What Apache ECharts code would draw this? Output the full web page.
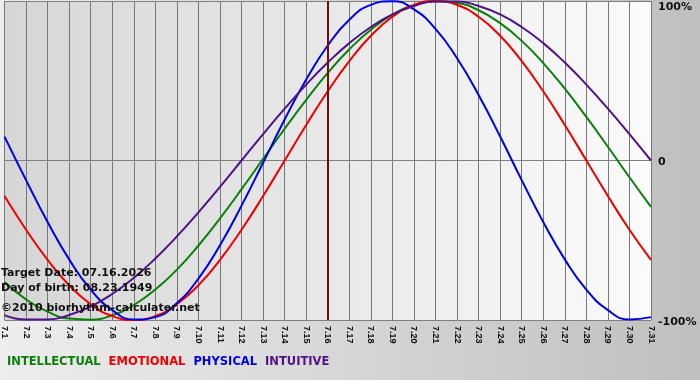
<!DOCTYPE html>
<html>
<head>
<meta charset="utf-8">
<script src="https://cdn.jsdelivr.net/npm/echarts@6/dist/echarts.min.js"></script>
<style>
  html, body { margin: 0; padding: 0; }
  #main { width: 700px; height: 380px; }
</style>
</head>
<body>
<div id="main"></div>
<script>
// days of July shown on the x axis
const days = ['7.1', '7.2', '7.3', '7.4', '7.5', '7.6', '7.7', '7.8', '7.9', '7.10',
  '7.11', '7.12', '7.13', '7.14', '7.15', '7.16', '7.17', '7.18', '7.19', '7.20',
  '7.21', '7.22', '7.23', '7.24', '7.25', '7.26', '7.27', '7.28', '7.29', '7.30', '7.31']
const targetDay = '7.16'

// values in percent
const intellectual = [-76.2, -87.1, -94.8, -99.1, -99.8, -97.0, -90.6, -80.9, -68.4, -53.3,
  -36.3, -18.0, 1.0, 19.9, 38.0, 54.9, 69.7, 82.0, 91.4, 97.4,
  99.9, 98.8, 94.2, 86.1, 75.0, 61.1, 45.0, 27.3, 8.6, -10.5, -29.1]
const emotional = [-22.3, -43.4, -62.3, -78.2, -90.1, -97.5, -100, -97.5, -90.1, -78.2,
  -62.3, -43.4, -22.3, 0, 22.3, 43.4, 62.3, 78.2, 90.1, 97.5,
  100, 97.5, 90.1, 78.2, 62.3, 43.4, 22.3, 0, -22.3, -43.4, -62.3]
const physical = [15.0, -12.3, -38.6, -62.0, -80.9, -93.8, -99.7, -98.2, -89.4, -74.0,
  -53.1, -28.3, -1.4, 25.7, 50.8, 72.1, 88.2, 97.6, 99.9, 94.7,
  82.5, 64.1, 41.1, 15.0, -12.3, -38.6, -62.0, -80.9, -93.8, -99.7, -98.2]
const intuitive = [-96.9, -99.7, -99.7, -96.9, -91.6, -83.7, -73.6, -61.4, -47.6, -32.5,
  -16.5, 0, 16.5, 32.5, 47.6, 61.4, 73.6, 83.7, 91.6, 96.9,
  99.7, 99.7, 96.9, 91.6, 83.7, 73.6, 61.4, 47.6, 32.5, 16.5, 0]

const yTicks = { '100': '100%', '0': '0', '-100': '-100%' }

const colors = {
  INTELLECTUAL: '#0a800a',
  EMOTIONAL: '#ee0000',
  PHYSICAL: '#0000e0',
  INTUITIVE: '#4e1387'
}

const font = 'DejaVu Sans'
const chart = echarts.init(document.getElementById('main'))

function lineSeries(name, data) {
  return {
    name: name,
    type: 'line',
    data: data,
    smooth: 0.5,
    symbol: 'none',
    lineStyle: { color: colors[name], width: 2 },
    itemStyle: { color: colors[name] }
  }
}

const series = [
  lineSeries('INTELLECTUAL', intellectual),
  lineSeries('EMOTIONAL', emotional),
  lineSeries('PHYSICAL', physical),
  lineSeries('INTUITIVE', intuitive)
]
series[0].markLine = {
  silent: true,
  symbol: 'none',
  label: { show: false },
  lineStyle: { color: '#7a0a0a', width: 2, type: 'solid' },
  data: [{ xAxis: targetDay }]
}

const infoText = { fontFamily: font, fontSize: 11, fontWeight: 'bold', color: '#111' }

let option = {
  animation: false,
  backgroundColor: new echarts.graphic.LinearGradient(0, 0, 1, 0, [
    { offset: 0, color: '#ededed' },
    { offset: 1, color: '#bfbfbf' }
  ]),
  title: [
    { text: 'Target Date: 07.16.2026', left: 1, top: 268, padding: 0, textStyle: infoText },
    { text: 'Day of birth: 08.23.1949', left: 1, top: 283, padding: 0, textStyle: infoText },
    { text: '©2010 biorhythm-calculater.net', left: 1, top: 303, padding: 0, textStyle: infoText }
  ],
  legend: {
    left: 2,
    top: 356,
    padding: 0,
    icon: 'none',
    itemWidth: 0,
    itemHeight: 0,
    itemGap: 3,
    selectedMode: false,
    data: Object.keys(colors).map(n => ({
      name: n,
      textStyle: { color: colors[n], fontFamily: font, fontSize: 11.5, fontWeight: 'bold' }
    }))
  },
  grid: {
    left: 0,
    right: 49,
    top: 1,
    bottom: 60,
    show: true,
    borderWidth: 0,
    backgroundColor: new echarts.graphic.LinearGradient(0, 0, 1, 0, [
      { offset: 0, color: '#d6d6d6' },
      { offset: 1, color: '#fbfbfb' }
    ])
  },
  xAxis: {
    type: 'category',
    data: days,
    boundaryGap: false,
    axisLine: { lineStyle: { color: '#808080', width: 1 } },
    axisTick: { show: true, length: 3, lineStyle: { color: '#808080' } },
    splitLine: { show: true, lineStyle: { color: '#777777', width: 1 } },
    axisLabel: {
      interval: 0,
      rotate: -90,
      margin: 6,
      fontFamily: 'Liberation Sans',
      fontSize: 9,
      fontWeight: 'bold',
      color: '#111'
    }
  },
  yAxis: {
    type: 'value',
    position: 'right',
    min: -100,
    max: 100,
    interval: 100,
    axisLine: { show: false },
    axisTick: { show: false },
    splitLine: { show: true, lineStyle: { color: '#808080', width: 1 } },
    axisLabel: {
      margin: 7,
      fontFamily: font,
      fontSize: 11,
      fontWeight: 'bold',
      color: '#111',
      formatter: v => v === 100 ? '{top|' + yTicks[v] + '}' : '{n|' + yTicks[v] + '}',
      rich: {
        top: { padding: [12, 0, 0, 0], fontFamily: font, fontSize: 11, fontWeight: 'bold', color: '#111' },
        n: { padding: [4, 0, 0, 0], fontFamily: font, fontSize: 11, fontWeight: 'bold', color: '#111' }
      }
    }
  },
  series: series
}

option && chart.setOption(option)
</script>
</body>
</html>
